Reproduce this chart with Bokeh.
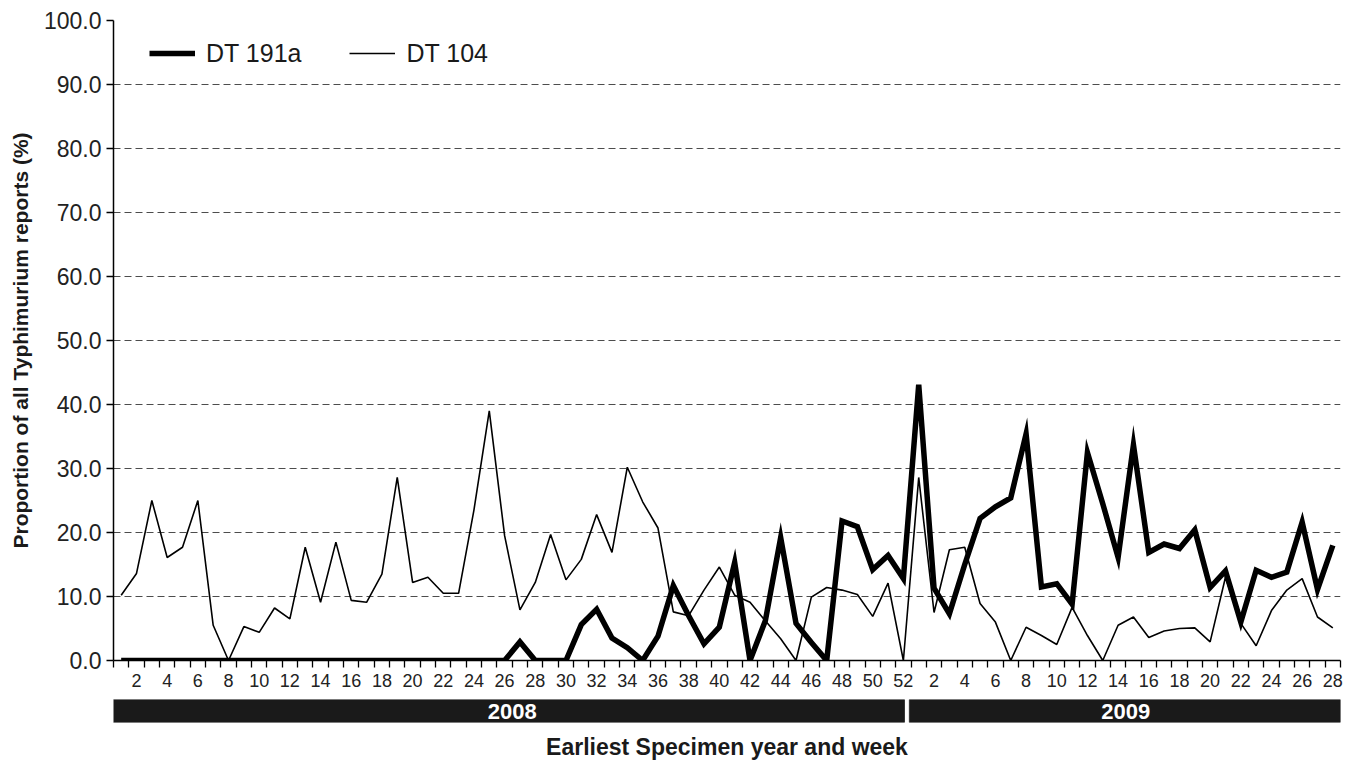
from bokeh.plotting import figure
from bokeh.models import (Range1d, FixedTicker, NumeralTickFormatter, Legend,
                          LegendItem, ColumnDataSource)
from bokeh.layouts import column
from bokeh.embed import file_html
from bokeh.resources import INLINE
from bokeh.core.properties import value

FONT = "Liberation Sans"

years = ["2008", "2009"]
weeks_per_year = [52, 28]

dt191a_2008 = [0.0] * 26 + [
    2.9, 0.0, 0.0, 0.0, 5.6, 8.0, 3.5, 2.0, 0.0, 3.8,
    11.7, 7.0, 2.6, 5.2, 15.3, 0.0, 6.2, 19.2, 5.8, 2.8,
    0.0, 21.8, 20.9, 14.2, 16.4, 12.8]
dt191a_2009 = [43.1, 11.3, 7.3, 15.0, 22.2, 24.0, 25.4, 35.4, 11.5, 12.0,
               8.8, 32.5, 24.5, 16.1, 33.7, 16.9, 18.2, 17.5, 20.4, 11.4,
               14.0, 6.0, 14.1, 13.0, 13.8, 21.6, 11.1, 18.0]

dt104_2008 = [10.2, 13.6, 25.0, 16.1, 17.7, 25.0, 5.5, 0.0, 5.3, 4.4,
              8.2, 6.5, 17.7, 9.1, 18.5, 9.4, 9.1, 13.5, 28.6, 12.2,
              13.0, 10.5, 10.5, 23.5, 39.0, 19.5, 7.9, 12.2, 19.7, 12.6,
              15.8, 22.8, 16.9, 30.2, 24.8, 20.7, 7.6, 7.0, 11.0, 14.6,
              10.2, 9.1, 6.2, 3.4, 0.0, 9.9, 11.4, 11.0, 10.3, 6.9,
              12.1, 0.0]
dt104_2009 = [28.6, 7.5, 17.3, 17.7, 8.9, 6.0, 0.0, 5.2, 3.9, 2.5,
              8.3, 3.9, 0.0, 5.5, 6.8, 3.6, 4.6, 5.0, 5.1, 2.9,
              13.0, 5.8, 2.3, 7.8, 11.0, 12.8, 6.8, 5.1]

y_ticks = [0, 10, 20, 30, 40, 50, 60, 70, 80, 90, 100]

# ---- derived sequences -------------------------------------------------
week_numbers = []
for n in weeks_per_year:
    week_numbers += list(range(1, n + 1))
idx = list(range(1, len(week_numbers) + 1))
dt191a = dt191a_2008 + dt191a_2009
dt104 = dt104_2008 + dt104_2009

label_pos = [i for i, w in zip(idx, week_numbers) if w % 2 == 0]
label_over = {i: str(w) for i, w in zip(idx, week_numbers) if w % 2 == 0}
boundaries = [i + 0.5 for i in range(0, len(idx) + 1)]

year_start, year_end = [], []
acc = 0.5
for n in weeks_per_year:
    year_start.append(acc)
    acc += n
    year_end.append(acc)

src = ColumnDataSource(dict(x=idx, a=dt191a, b=dt104))

x_range = Range1d(0.5, len(idx) + 0.5)

p = figure(width=1344, height=698, x_range=x_range, y_range=Range1d(0, 100),
           output_backend="svg", toolbar_location=None,
           min_border_left=113, min_border_right=4, min_border_top=20,
           min_border_bottom=38)
p.outline_line_color = None
p.xgrid.visible = False
p.ygrid.ticker = FixedTicker(ticks=y_ticks[1:])
p.ygrid.grid_line_dash = "7 4"
p.ygrid.grid_line_color = "#4d4d4d"
p.ygrid.grid_line_width = 1.2

p.yaxis.ticker = FixedTicker(ticks=y_ticks)
p.yaxis.formatter = NumeralTickFormatter(format="0.0")
p.yaxis.major_label_text_font = FONT
p.yaxis.major_label_text_font_size = "23px"
p.yaxis.major_label_text_color = "#222222"
p.yaxis.major_label_standoff = 5
p.yaxis.major_tick_out = 7
p.yaxis.major_tick_in = 0
p.yaxis.minor_tick_line_color = None
p.yaxis.axis_line_width = 1.5
p.yaxis.major_tick_line_width = 1.5
p.yaxis.axis_label = "Proportion of all Typhimurium reports (%)"
p.yaxis.axis_label_text_font = FONT
p.yaxis.axis_label_text_font_style = "bold"
p.yaxis.axis_label_text_font_size = "21px"
p.yaxis.axis_label_text_color = "#1a1a1a"
p.yaxis.axis_label_standoff = 9

p.xaxis.ticker = FixedTicker(ticks=label_pos, minor_ticks=boundaries)
p.xaxis.major_label_overrides = label_over
p.xaxis.major_tick_line_color = None
p.xaxis.major_tick_out = 0
p.xaxis.major_tick_in = 0
p.xaxis.minor_tick_out = 7
p.xaxis.minor_tick_in = 0
p.xaxis.minor_tick_line_color = "black"
p.xaxis.minor_tick_line_width = 1.3
p.xaxis.axis_line_width = 1.5
p.xaxis.major_label_standoff = 6
p.xaxis.major_label_text_font = FONT
p.xaxis.major_label_text_font_size = "18px"
p.xaxis.major_label_text_color = "#222222"

r_thin = p.line("x", "b", source=src, line_color="black", line_width=1.6)
r_bold = p.line("x", "a", source=src, line_color="black", line_width=5.5,
                line_join="miter")

legend = Legend(items=[LegendItem(label="DT 191a", renderers=[r_bold]),
                       LegendItem(label="DT 104", renderers=[r_thin])],
                orientation="horizontal", location=(36, 592),
                glyph_width=46, glyph_height=30, label_height=30,
                label_standoff=11, spacing=48,
                padding=0, margin=0, border_line_color=None,
                background_fill_alpha=0, label_text_font=FONT,
                label_text_font_size="25px", label_text_color="#1a1a1a")
p.add_layout(legend)

# ---- year band ---------------------------------------------------------
p2 = figure(width=1344, height=64, x_range=x_range, y_range=Range1d(0, 1),
            output_backend="svg", toolbar_location=None, y_axis_location=None,
            min_border_left=113, min_border_right=4, min_border_top=1,
            min_border_bottom=39)
p2.outline_line_color = None
p2.grid.visible = False
ysrc = ColumnDataSource(dict(
    left=[s + (-0.08 if i == 0 else -0.11) for i, s in enumerate(year_start)],
    right=[e - (0.43 if i < len(year_end) - 1 else 0.0) for i, e in enumerate(year_end)],
    mid=[(s + e) / 2 for s, e in zip(year_start, year_end)],
    label=years))
p2.quad(left="left", right="right", bottom=0, top=1, source=ysrc,
        fill_color="#1a1a1a", line_color="#333333")
p2.text(x="mid", y=0.5, text="label", source=ysrc, text_color="white",
        text_font=value(FONT), text_font_style="bold", text_font_size="22px",
        text_align="center", text_baseline="middle")
p2.xaxis.ticker = FixedTicker(ticks=[])
p2.xaxis.axis_line_color = None
p2.xaxis.major_tick_line_color = None
p2.xaxis.minor_tick_line_color = None
p2.xaxis.major_tick_out = 0
p2.xaxis.major_label_standoff = 0
p2.xaxis.major_label_text_font_size = "0px"
p2.xaxis.axis_label = "Earliest Specimen year and week"
p2.xaxis.axis_label_text_font = FONT
p2.xaxis.axis_label_text_font_style = "bold"
p2.xaxis.axis_label_text_font_size = "23px"
p2.xaxis.axis_label_text_color = "#1a1a1a"
p2.xaxis.axis_label_standoff = 11

layout = column(p, p2, spacing=0)
open("out.html", "w").write(file_html(layout, INLINE))
